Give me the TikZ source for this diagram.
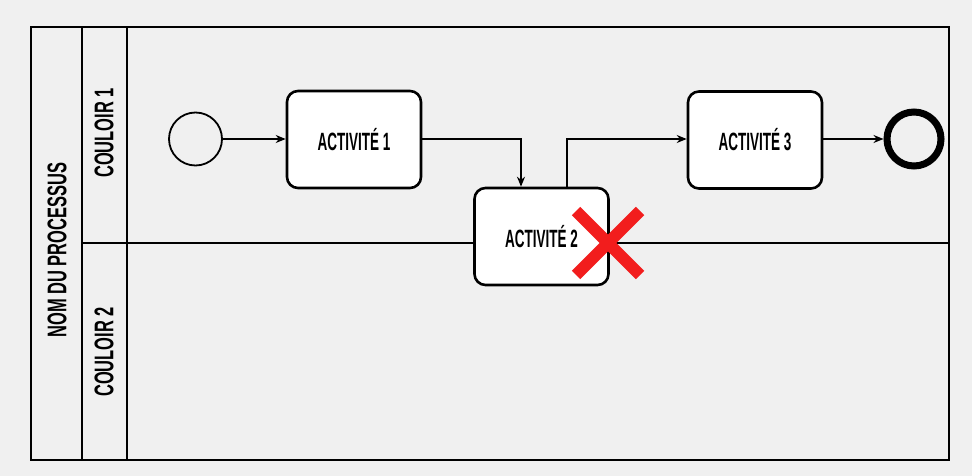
\documentclass[tikz,border=0pt]{standalone}
\usepackage{fontspec}
\setmainfont{Liberation Sans}
\newfontfamily\actfont[FakeStretch=0.54]{Liberation Sans}
\newfontfamily\lblfont[FakeStretch=0.61]{Liberation Sans}
\usetikzlibrary{arrows.meta}
\definecolor{bg}{HTML}{F0F0F0}
\definecolor{xred}{HTML}{F21D1D}
\tikzset{
  task/.style={draw=black, line width=2.6pt, fill=white, rounded corners=11pt, minimum width=134pt, minimum height=97pt, inner sep=0pt, font=\actfont\bfseries\fontsize{25}{26}\selectfont},
  flow/.style={draw=black, line width=1.6pt, -{Stealth[length=10pt,width=8pt]}},
  lbl/.style={font=\lblfont\bfseries\fontsize{27}{28}\selectfont, rotate=90, inner sep=0pt},
  frame/.style={draw=black, line width=2.6pt},
  thin/.style={draw=black, line width=1.8pt}
}
\begin{document}
\begin{tikzpicture}[x=1pt,y=-1pt]
\fill[bg] (0,0) rectangle (972,476);
\useasboundingbox (0,0) rectangle (972,476);
% pool
\draw[frame] (31,27) rectangle (949,460);
\draw[thin] (82,27) -- (82,460);
\draw[thin] (127,27) -- (127,460);
\draw[thin] (82,243) -- (949,243);
\node[lbl] (pool) at (57,250) {NOM DU PROCESSUS};
\node[lbl] (l1) at (104,133) {COULOIR 1};
\node[lbl] (l2) at (104,352) {COULOIR 2};
% elements
\node[draw=black, line width=1.8pt, circle, minimum size=53pt, inner sep=0pt, fill=bg] (start) at (195.5,139) {};
\node[task] (a1) at (354,139.5) {ACTIVITÉ 1};
\node[task] (a2) at (541.5,236.5) {ACTIVITÉ 2};
\node[task] (a3) at (755,140) {ACTIVITÉ 3};
\node[draw=black, line width=7pt, circle, minimum size=54pt, inner sep=0pt] (end) at (914,139) {};
\draw[flow] (start.east) -- (a1.west |- start.east);
\coordinate (c1) at (521,139);
\draw[flow] (a1.east |- c1) -- (c1) -- (c1 |- a2.north);
\coordinate (c2) at (567,139);
\draw[flow] (c2 |- a2.north) -- (c2) -- (a3.west |- c2);
\draw[flow] (a3.east |- end.west) -- (end.west);
% red cross
\coordinate (xc) at (608,243);
\draw[xred, line width=12pt] (576,211) -- (640,275) (640,211) -- (576,275);
\end{tikzpicture}
\end{document}
